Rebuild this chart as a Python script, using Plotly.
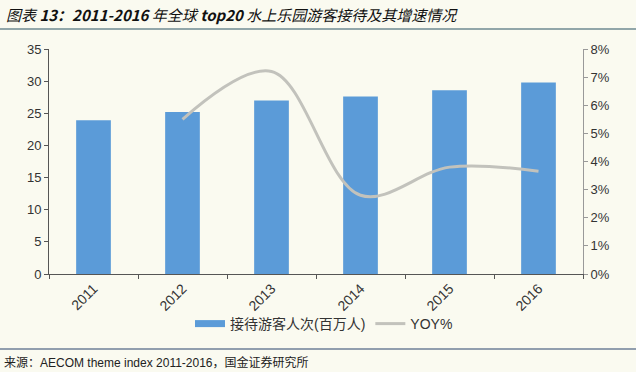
import plotly.graph_objects as go

years = ["2011", "2012", "2013", "2014", "2015", "2016"]
visitors = [23.9, 25.2, 27.0, 27.6, 28.6, 29.8]
yoy = [None, 0.055, 0.072, 0.028, 0.038, 0.0365]

W, H = 636, 372
L, R, T, B = 49, 53, 49, 98
pw, ph = W - L - R, H - T - B

def px(x):
    return (x - L) / pw

def py(y):
    return (H - B - y) / ph

bg = "#FAFAF0"
bar_color = "#5B9BD8"
fig = go.Figure()
fig.add_trace(go.Bar(
    x=years, y=visitors, name="接待游客人次(百万人)", showlegend=False,
    marker=dict(color=bar_color, line=dict(width=0)), width=0.39,
))
# legend entry with a wide rectangular swatch like the original
fig.add_trace(go.Scatter(
    x=[None], y=[None], name="接待游客人次(百万人)", mode="lines",
    line=dict(color=bar_color, width=7),
))
fig.add_trace(go.Scatter(
    x=years, y=yoy, name="YOY%", yaxis="y2", mode="lines",
    line=dict(color="#C2C2BC", width=3, shape="spline", smoothing=1.0),
))

tickfont = dict(family="Liberation Sans, Arial, sans-serif", size=13, color="#333333")
xtickfont = dict(family="Liberation Sans, Arial, sans-serif", size=14, color="#333333")
fig.update_layout(
    width=W, height=H,
    margin=dict(l=L, r=R, t=T, b=B),
    paper_bgcolor=bg, plot_bgcolor=bg,
    showlegend=True,
    xaxis=dict(
        type="category", tickangle=-45, tickfont=xtickfont,
        showline=True, linecolor="#555555", linewidth=1,
        ticks="outside", ticklen=4, tickcolor="#555555", tickson="boundaries",
        showgrid=False, zeroline=False,
    ),
    yaxis=dict(
        range=[0, 35], dtick=5, tickfont=tickfont,
        showline=True, linecolor="#555555", linewidth=1,
        ticks="outside", ticklen=4, tickcolor="#555555",
        showgrid=False, zeroline=False,
    ),
    yaxis2=dict(
        range=[0, 0.08], dtick=0.01, tickformat=".0%", overlaying="y", side="right",
        tickfont=tickfont, showline=True, linecolor="#999999", linewidth=1,
        ticks="outside", ticklen=4, tickcolor="#999999",
        showgrid=False, zeroline=False,
    ),
    legend=dict(
        orientation="h", x=px(324), y=py(324), xanchor="center", yanchor="middle",
        font=dict(family="Liberation Sans, Noto Sans CJK SC, sans-serif", size=14, color="#333333"),
        bgcolor="rgba(0,0,0,0)",
    ),
    annotations=[
        dict(
            text="<i>图表 <b>13：2011-2016</b> 年全球 <b>top20</b> 水上乐园游客接待及其增速情况</i>",
            x=px(4), y=py(15), xref="paper", yref="paper", xanchor="left", yanchor="middle",
            showarrow=False,
            font=dict(family="Noto Sans CJK SC, sans-serif", size=15, color="#111111"),
        ),
        dict(
            text="来源：AECOM theme index 2011-2016，国金证券研究所",
            x=px(2), y=py(362), xref="paper", yref="paper", xanchor="left", yanchor="middle",
            showarrow=False,
            font=dict(family="Liberation Sans, Noto Sans CJK SC, sans-serif", size=12, color="#222222"),
        ),
    ],
    shapes=[
        dict(type="line", xref="paper", yref="paper", x0=px(0), x1=px(W), y0=py(29), y1=py(29),
             line=dict(color="#6E8A92", width=1.5)),
        dict(type="line", xref="paper", yref="paper", x0=px(0), x1=px(W), y0=py(349), y1=py(349),
             line=dict(color="#6E7F99", width=1.5)),
    ],
)

fig.write_html("out.html")
